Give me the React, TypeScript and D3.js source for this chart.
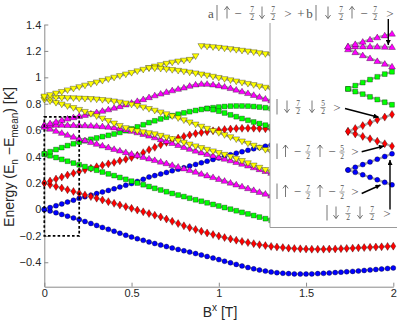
import React, { useRef, useEffect } from 'react';
import * as d3 from 'd3';

// field sweep B^x [T]
const fieldT = [0, 0.033, 0.067, 0.1, 0.133, 0.167, 0.2, 0.233, 0.267, 0.3, 0.333, 0.367, 0.4, 0.433, 0.467, 0.5, 0.533, 0.567, 0.6, 0.633, 0.667, 0.7, 0.733, 0.767, 0.8, 0.833, 0.867, 0.9, 0.933, 0.967, 1, 1.033, 1.067, 1.1, 1.133, 1.167, 1.2, 1.233, 1.267, 1.3, 1.333, 1.367, 1.4, 1.433, 1.467, 1.5, 1.533, 1.567, 1.6, 1.633, 1.667, 1.7, 1.733, 1.767, 1.8, 1.833, 1.867, 1.9, 1.933, 1.967, 2];

// E_n - E_mean [K] for each level (levels behind the inset stop at its edge)
const blueLow = [0, -0.012, -0.025, -0.038, -0.051, -0.064, -0.077, -0.091, -0.106, -0.121, -0.136, -0.151, -0.165, -0.18, -0.195, -0.209, -0.222, -0.234, -0.246, -0.258, -0.27, -0.281, -0.292, -0.303, -0.313, -0.323, -0.334, -0.345, -0.356, -0.368, -0.38, -0.392, -0.404, -0.416, -0.428, -0.44, -0.45, -0.459, -0.467, -0.474, -0.479, -0.483, -0.486, -0.488, -0.489, -0.489, -0.488, -0.486, -0.484, -0.481, -0.478, -0.475, -0.472, -0.469, -0.466, -0.462, -0.458, -0.455, -0.451, -0.447, -0.443];
const blueUp = [0, 0.014, 0.028, 0.042, 0.056, 0.07, 0.084, 0.096, 0.108, 0.12, 0.132, 0.144, 0.156, 0.17, 0.183, 0.196, 0.212, 0.228, 0.245, 0.256, 0.268, 0.28, 0.292, 0.304, 0.316, 0.329, 0.341, 0.353, 0.365, 0.378, 0.39, 0.402, 0.414, 0.426, 0.437, 0.448, 0.459, 0.469, 0.479, 0.488, 0.497];
const redLow = [0.2, 0.187, 0.174, 0.162, 0.149, 0.136, 0.123, 0.11, 0.097, 0.085, 0.072, 0.059, 0.046, 0.033, 0.021, 0.008, -0.005, -0.018, -0.031, -0.044, -0.057, -0.073, -0.09, -0.107, -0.124, -0.138, -0.152, -0.165, -0.178, -0.19, -0.202, -0.213, -0.223, -0.233, -0.242, -0.251, -0.259, -0.267, -0.274, -0.28, -0.285, -0.289, -0.293, -0.296, -0.298, -0.3, -0.301, -0.301, -0.301, -0.3, -0.299, -0.297, -0.295, -0.293, -0.291, -0.289, -0.287, -0.285, -0.283, -0.28, -0.278];
const redUp = [0.2, 0.215, 0.23, 0.245, 0.26, 0.274, 0.288, 0.3, 0.312, 0.323, 0.334, 0.345, 0.356, 0.368, 0.38, 0.393, 0.41, 0.43, 0.452, 0.47, 0.489, 0.507, 0.524, 0.54, 0.553, 0.564, 0.574, 0.582, 0.589, 0.595, 0.6, 0.605, 0.609, 0.612, 0.614, 0.615, 0.615, 0.613, 0.61, 0.606, 0.602];
const greenLow = [0.42, 0.406, 0.393, 0.379, 0.365, 0.351, 0.338, 0.324, 0.31, 0.297, 0.283, 0.269, 0.256, 0.242, 0.228, 0.214, 0.2, 0.187, 0.173, 0.16, 0.147, 0.134, 0.121, 0.109, 0.097, 0.085, 0.073, 0.062, 0.05, 0.038, 0.026, 0.014, 0.002, -0.01, -0.022, -0.034, -0.046, -0.058, -0.07, -0.082, -0.093];
const greenUp = [0.42, 0.437, 0.453, 0.468, 0.483, 0.497, 0.509, 0.52, 0.531, 0.541, 0.551, 0.561, 0.571, 0.583, 0.596, 0.61, 0.625, 0.641, 0.657, 0.671, 0.685, 0.698, 0.71, 0.721, 0.731, 0.74, 0.749, 0.757, 0.764, 0.77, 0.775, 0.779, 0.782, 0.783, 0.783, 0.782, 0.779, 0.775, 0.77, 0.764, 0.757];
const greenBranch = [0.764, 0.755, 0.744, 0.73, 0.716, 0.702, 0.688, 0.675, 0.662, 0.65, 0.638, 0.627, 0.617];
const magentaRise = [0.64, 0.652, 0.664, 0.676, 0.687, 0.697, 0.706, 0.715, 0.725, 0.735, 0.746, 0.757, 0.769, 0.781, 0.794, 0.807, 0.82, 0.834, 0.849, 0.863, 0.876, 0.889, 0.901, 0.912, 0.922, 0.935, 0.945, 0.95, 0.95, 0.945, 0.938, 0.929, 0.918, 0.906, 0.893, 0.88, 0.866, 0.852, 0.838, 0.825, 0.812];
const magentaFlat = [0.64, 0.64, 0.64, 0.64, 0.639, 0.638, 0.637, 0.636, 0.634, 0.632, 0.629, 0.625, 0.62, 0.613, 0.604, 0.594, 0.583, 0.571, 0.558, 0.545, 0.531, 0.517, 0.502, 0.487, 0.472, 0.458, 0.444, 0.431, 0.419, 0.407, 0.395, 0.383, 0.371, 0.358, 0.345, 0.332, 0.318, 0.304, 0.29, 0.276, 0.262];
const magentaFall = [0.625, 0.61, 0.594, 0.579, 0.564, 0.55, 0.536, 0.523, 0.509, 0.496, 0.483, 0.47, 0.457, 0.445, 0.433, 0.421, 0.409, 0.397, 0.385, 0.373, 0.361, 0.349, 0.336, 0.323, 0.31, 0.297, 0.284, 0.27, 0.257, 0.244, 0.23, 0.216, 0.202, 0.188, 0.174, 0.16, 0.146, 0.132, 0.118, 0.104, 0.09];
const yellowRise = [0.855, 0.866, 0.878, 0.89, 0.902, 0.914, 0.926, 0.938, 0.95, 0.962, 0.974, 0.986, 0.998, 1.01, 1.022, 1.034, 1.046, 1.058, 1.07, 1.082, 1.093, 1.103, 1.112, 1.12, 1.127, 1.133, 1.16];
const yellowTurn = [1.07, 1.068, 1.065, 1.061, 1.056, 1.05, 1.044, 1.037, 1.03, 1.022, 1.014, 1.005, 0.996, 0.987, 0.978, 0.969, 0.96, 0.951, 0.942, 0.932, 0.922, 0.912, 0.902];
const yellowTop = [1.237, 1.233, 1.229, 1.224, 1.219, 1.214, 1.208, 1.202, 1.196, 1.19, 1.183, 1.176, 1.169, 1.162];
const yellowMid = [0.845, 0.845, 0.845, 0.844, 0.843, 0.842, 0.84, 0.838, 0.836, 0.833, 0.829, 0.824, 0.818, 0.811, 0.803, 0.794, 0.784, 0.773, 0.761, 0.748, 0.735, 0.721, 0.706, 0.691, 0.675, 0.659, 0.643, 0.627, 0.611, 0.595, 0.579, 0.563, 0.547, 0.531, 0.515, 0.499, 0.483, 0.467, 0.451, 0.435, 0.419];
const yellowFall = [0.83, 0.819, 0.807, 0.795, 0.782, 0.768, 0.754, 0.739, 0.723, 0.706, 0.688, 0.67, 0.651, 0.633, 0.616, 0.602, 0.592, 0.585, 0.578, 0.569, 0.558, 0.546, 0.533, 0.52, 0.506, 0.492, 0.478, 0.465, 0.452, 0.44, 0.428, 0.414, 0.399, 0.383, 0.367, 0.35, 0.333, 0.316, 0.299, 0.282, 0.265];

// from = index in fieldT where the level's array begins
const levels = [
  { values: blueLow, from: 0, kind: 'blue' },
  { values: blueUp, from: 0, kind: 'blue' },
  { values: redLow, from: 0, kind: 'red' },
  { values: redUp, from: 0, kind: 'red' },
  { values: greenLow, from: 0, kind: 'green' },
  { values: greenUp, from: 0, kind: 'green' },
  { values: greenBranch, from: 28, kind: 'green' },
  { values: magentaFall, from: 0, kind: 'magenta' },
  { values: magentaFlat, from: 0, kind: 'magenta' },
  { values: magentaRise, from: 0, kind: 'magenta' },
  { values: yellowFall, from: 0, kind: 'yellow' },
  { values: yellowMid, from: 0, kind: 'yellow' },
  { values: yellowRise, from: 0, kind: 'yellow' },
  { values: yellowTurn, from: 18, kind: 'yellow' },
  { values: yellowTop, from: 27, kind: 'yellow' },
];

const xTicks = [0, 0.5, 1, 1.5, 2];
const yTicks = [-0.4, -0.2, 0, 0.2, 0.4, 0.6, 0.8, 1, 1.2, 1.4];

const markerStyle: any = {
  blue: { fill: '#0000ff', d: 'M2.5,0A2.5,2.5 0 1,1 -2.5,0A2.5,2.5 0 1,1 2.5,0Z' },
  red: { fill: '#ff0000', d: 'M0,-4L2.5,0L0,4L-2.5,0Z' },
  green: { fill: '#00ff00', d: 'M-2.4,-2.4H2.4V2.4H-2.4Z' },
  magenta: { fill: '#ff00ff', d: 'M0,-3.3L3.4,2.4L-3.4,2.4Z' },
  yellow: { fill: '#ffff00', d: 'M0,3.3L3.4,-2.4L-3.4,-2.4Z' },
};

// ket labels of the inset: [glyph, centre x]  (up/dn = spin arrows)
const kets: any[] = [
  { y: 17.5, toks: [['a', 211], ['|', 217], ['up', 227], ['−', 238], ['7/2', 252], ['dn', 262], ['7/2', 273], ['>', 288], ['+', 301], ['b', 309.5], ['|', 316], ['dn', 328], ['7/2', 341], ['up', 352], ['−', 364], ['7/2', 375], ['>', 390]] },
  { y: 111.5, toks: [['|', 277], ['dn', 287], ['7/2', 298], ['dn', 312], ['5/2', 323], ['>', 337]] },
  { y: 156, toks: [['|', 277], ['up', 285.5], ['−', 297.5], ['7/2', 308], ['up', 320], ['−', 332], ['5/2', 342], ['>', 355]] },
  { y: 196, toks: [['|', 277], ['up', 285.5], ['−', 297.5], ['7/2', 308], ['up', 320], ['−', 332], ['7/2', 342], ['>', 355]] },
  { y: 217.5, toks: [['|', 327], ['dn', 336], ['7/2', 348], ['dn', 360], ['7/2', 372], ['>', 387]] },
];
const arrows = [
  [388.3, 19, 388.3, 45],
  [345, 108.5, 378.5, 117.3],
  [361.7, 151.7, 384, 146],
  [361.7, 193.5, 380.5, 185],
  [390, 209.5, 390, 160],
];

const App = () => {
  const ref = useRef<SVGSVGElement>(null);

  useEffect(() => {
    const svg = d3.select(ref.current);
    svg.selectAll('*').remove();

    const x = d3.scaleLinear().domain([0, 2]).range([44.3, 393.3]);
    const y = d3.scaleLinear().domain([-0.585, 1.4]).range([286.7, 24.5]);

    const drawLevels = (g: any, lv: any[], xs: any, ys: any, maxIdx: number) => {
      lv.forEach((l) => {
        const pts = l.values
          .map((e: number, i: number) => ({ b: fieldT[l.from + i], e, k: l.from + i }))
          .filter((p: any) => p.k <= maxIdx);
        if (!pts.length) return;
        g.append('path')
          .datum(pts)
          .attr('fill', 'none')
          .attr('stroke', '#a6a6a6')
          .attr('stroke-width', 2.2)
          .attr('d', d3.line<any>().x((d) => xs(d.b)).y((d) => ys(d.e)));
        g.append('g')
          .selectAll('path')
          .data(pts)
          .join('path')
          .attr('d', markerStyle[l.kind].d)
          .attr('transform', (d: any) => 'translate(' + xs(d.b) + ',' + ys(d.e) + ')')
          .attr('fill', markerStyle[l.kind].fill)
          .attr('stroke', '#000')
          .attr('stroke-opacity', 0.55)
          .attr('stroke-width', 0.6);
      });
    };

    // axes
    const font = 'Liberation Sans, Arial, sans-serif';
    const ax = svg.append('g').attr('transform', 'translate(0,286.7)')
      .call(d3.axisBottom(x).tickValues(xTicks).tickSize(-4).tickSizeOuter(0).tickPadding(3).tickFormat((d: any) => String(d)));
    const ay = svg.append('g').attr('transform', 'translate(44.3,0)')
      .call(d3.axisLeft(y).tickValues(yTicks).tickSize(-4).tickSizeOuter(0).tickPadding(3)
        .tickFormat((d: any) => String(d).replace('-', '−')));
    [ax, ay].forEach((a) => {
      a.select('.domain').attr('stroke', '#8a8a8a');
      a.selectAll('line').attr('stroke', '#8a8a8a');
      a.selectAll('text').attr('fill', '#262626').style('font-family', font).style('font-size', '11px');
    });

    const plot = svg.append('g');
    drawLevels(plot, levels, x, y, 60);

    // zoom window
    svg.append('rect')
      .attr('x', x(0)).attr('y', y(0.7))
      .attr('width', x(0.2) - x(0)).attr('height', y(-0.2) - y(0.7))
      .attr('fill', 'none').attr('stroke', '#000').attr('stroke-width', 1.7)
      .attr('stroke-dasharray', '2.6,2.2');

    // inset
    const box = { x0: 270, y0: 23, x1: 397, y1: 227.5 };
    svg.append('rect').attr('x', box.x0).attr('y', box.y0)
      .attr('width', box.x1 - box.x0).attr('height', box.y1 - box.y0).attr('fill', '#fff');
    svg.append('clipPath').attr('id', 'insetClip').append('rect')
      .attr('x', box.x0).attr('y', box.y0).attr('width', box.x1 - box.x0).attr('height', box.y1 - box.y0);
    const xi = d3.scaleLinear().domain([0, 0.2]).range([348, 392]);
    const yi = d3.scaleLinear().domain([0, 0.2]).range([170, 131.4]);
    const inset = svg.append('g').attr('clip-path', 'url(#insetClip)');
    drawLevels(inset, levels.filter((l) => l.kind !== 'yellow'), xi, yi, 6);
    svg.append('path')
      .attr('d', 'M' + box.x0 + ',' + box.y0 + 'V' + box.y1 + 'H' + box.x1)
      .attr('fill', 'none').attr('stroke', '#9a9a9a').attr('stroke-width', 1);

    // kets
    const ink = '#555';
    const kg = svg.append('g').attr('fill', ink).style('font-family', 'Liberation Serif, serif');
    kets.forEach((k) => {
      k.toks.forEach(([t, cx]: [string, number]) => {
        if (t.includes('/')) {
          const [n, dd] = t.split('/');
          const axis = k.y - 4;
          kg.append('text').attr('x', cx).attr('y', axis - 1.3).attr('text-anchor', 'middle').style('font-size', '7.5px').text(n);
          kg.append('line').attr('x1', cx - 2.6).attr('x2', cx + 2.6).attr('y1', axis).attr('y2', axis)
            .attr('stroke', ink).attr('stroke-width', 0.6);
          kg.append('text').attr('x', cx).attr('y', axis + 6.6).attr('text-anchor', 'middle').style('font-size', '7.5px').text(dd);
        } else if (t === '|') {
          kg.append('line').attr('x1', cx).attr('x2', cx).attr('y1', k.y - 12.5).attr('y2', k.y + 3)
            .attr('stroke', '#777').attr('stroke-width', 1);
        } else if (t === 'up' || t === 'dn') {
          const top = k.y - 11, bot = k.y + 1;
          const tip = t === 'up' ? top : bot;
          const s = t === 'up' ? 1 : -1;
          kg.append('path')
            .attr('d', 'M' + cx + ',' + top + 'V' + bot +
              'M' + (cx - 2.6) + ',' + (tip + s * 3.4) + 'L' + cx + ',' + tip + 'L' + (cx + 2.6) + ',' + (tip + s * 3.4))
            .attr('fill', 'none').attr('stroke', ink).attr('stroke-width', 0.8);
        } else {
          kg.append('text').attr('x', cx).attr('y', k.y).attr('text-anchor', 'middle').style('font-size', '13px').text(t);
        }
      });
    });

    // arrows
    const defs = svg.append('defs');
    defs.append('marker').attr('id', 'ah').attr('viewBox', '0 0 10 10').attr('refX', 10).attr('refY', 5)
      .attr('markerWidth', 7).attr('markerHeight', 5).attr('markerUnits', 'userSpaceOnUse').attr('orient', 'auto')
      .append('path').attr('d', 'M0,0L10,5L0,10Z').attr('fill', '#000');
    arrows.forEach(([x1, y1, x2, y2]) => {
      svg.append('line').attr('x1', x1).attr('y1', y1).attr('x2', x2).attr('y2', y2)
        .attr('stroke', '#000').attr('stroke-width', 1.4).attr('marker-end', 'url(#ah)');
    });

    // axis titles
    const yl = svg.append('text').attr('transform', 'translate(14,157) rotate(-90)')
      .attr('text-anchor', 'middle').attr('fill', '#262626').style('font-family', font).style('font-size', '14px');
    yl.append('tspan').text('Energy (E');
    yl.append('tspan').attr('dy', 4).style('font-size', '10px').text('n');
    yl.append('tspan').attr('dy', -4).text(' −E');
    yl.append('tspan').attr('dy', 4).style('font-size', '10px').text('mean');
    yl.append('tspan').attr('dy', -4).text(') [K]');

    const xl = svg.append('text').attr('x', 220).attr('y', 316.5)
      .attr('text-anchor', 'middle').attr('fill', '#262626').style('font-family', font).style('font-size', '14px');
    xl.append('tspan').text('B');
    xl.append('tspan').attr('dy', -6).style('font-size', '10px').text('x');
    xl.append('tspan').attr('dy', 6).text(' [T]');
  }, []);

  return (
    <svg ref={ref} width={415} height={322}
      style={{ position: 'absolute', left: 0, top: 0, background: '#fff' }} />
  );
};

export default App;
